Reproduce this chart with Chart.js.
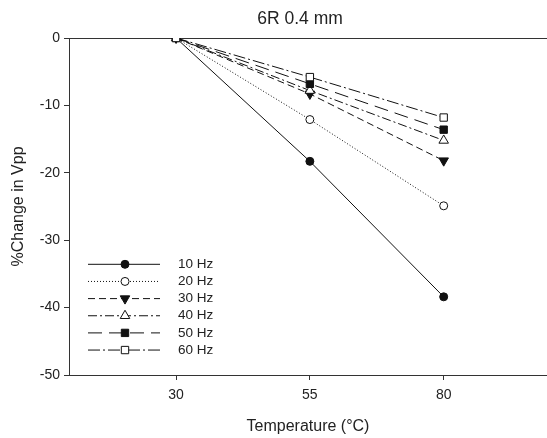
<!DOCTYPE html>
<html>
<head>
<meta charset="utf-8">
<script src="https://cdn.jsdelivr.net/npm/chart.js@4.4.0/dist/chart.umd.min.js"></script>
<style>
html,body{margin:0;padding:0;background:#fff;overflow:hidden}
canvas{display:block}
</style>
</head>
<body>
<canvas id="myChart" width="547" height="438"></canvas>
<script>
// datos
const titulo       = '6R 0.4 mm'
const temperaturas = [30, 55, 80]
const nombres      = ['10 Hz','20 Hz','30 Hz','40 Hz','50 Hz','60 Hz']
const hz10 = [0, -18.3, -38.4]
const hz20 = [0, -12.1, -24.9]
const hz30 = [0, -8.3, -18.2]
const hz40 = [0, -7.8, -15.2]
const hz50 = [0, -6.8, -13.6]
const hz60 = [0, -5.8, -11.8]
const xTicks = [30, 55, 80]
const yTicks = [0, -10, -20, -30, -40, -50]

const valores = [hz10, hz20, hz30, hz40, hz50, hz60]
const fuente  = '"Liberation Sans", Arial, sans-serif'
const negro   = '#111'
const textoColor = '#222'

//estilo de cada serie: linea, marcador, relleno
const estilos = [
    {dash:[],            punto:'circle',   radio:4,   rot:0,   relleno:negro},
    {dash:[1,2],         punto:'circle',   radio:4,   rot:0,   relleno:'#fff'},
    {dash:[7,4],         punto:'triangle', radio:5.5, rot:180, relleno:negro},
    {dash:[9,3,2,3],     punto:'triangle', radio:5.5, rot:0,   relleno:'#fff'},
    {dash:[14,7],        punto:'rect',     radio:5.2, rot:0,   relleno:negro},
    {dash:[12,3,2,3],    punto:'rect',     radio:5.2, rot:0,   relleno:'#fff'}
]

const datasets = nombres.map((nombre,i)=>({
    label:nombre,
    data:temperaturas.map((t,j)=>({x:t, y:valores[i][j]})),
    borderColor:negro,
    borderWidth:1,
    borderDash:estilos[i].dash,
    pointStyle:estilos[i].punto,
    pointRadius:estilos[i].radio,
    pointRotation:estilos[i].rot,
    pointBackgroundColor:estilos[i].relleno,
    pointBorderColor:negro,
    pointBorderWidth:1,
    fill:false,
    tension:0,
    order:nombres.length-1-i
}))

//titulo y leyenda dibujados a mano (linea + marcador al medio)
const extras = {
    id:'extras',
    afterDraw(chart){
        const c = chart.ctx
        c.save()
        c.fillStyle = textoColor
        c.font = '17.5px ' + fuente
        c.textAlign = 'center'
        c.textBaseline = 'middle'
        c.fillText(titulo, 300, 19)

        c.font = '13.5px ' + fuente
        c.textAlign = 'left'
        chart.data.datasets.forEach((ds,i)=>{
            const y = 264.3 + i*17.15
            c.strokeStyle = negro
            c.lineWidth = 1
            c.setLineDash(ds.borderDash)
            c.beginPath()
            c.moveTo(88, y)
            c.lineTo(160, y)
            c.stroke()
            c.setLineDash([])
            c.fillStyle = ds.pointBackgroundColor
            c.strokeStyle = negro
            Chart.helpers.drawPoint(c, {pointStyle:ds.pointStyle, radius:ds.pointRadius, rotation:ds.pointRotation, borderWidth:1}, 125, y)
            c.fillStyle = textoColor
            c.fillText(ds.label, 178, y)
        })
        c.restore()
    }
}

const ctx = document.getElementById('myChart')
const myChart = new Chart(ctx,{
    type:'line',
    data:{datasets:datasets},
    options:{
        responsive:false,
        animation:false,
        layout:{autoPadding:false, padding:{top:38, right:0, left:0, bottom:0}},
        plugins:{legend:{display:false}, title:{display:false}, tooltip:{enabled:false}},
        scales:{
            x:{
                type:'linear', min:10, max:99.3,
                afterBuildTicks:s=>{ s.ticks = xTicks.map(v=>({value:v})) },
                afterFit:s=>{ s.height = 63 },
                grid:{drawOnChartArea:false, tickLength:5, tickColor:'#333'},
                border:{color:'#333', width:1},
                ticks:{padding:7, color:textoColor, maxRotation:0, font:{family:fuente, size:14}},
                title:{display:true, text:'Temperature (°C)', color:textoColor, font:{family:fuente, size:16}, padding:{top:0, bottom:2}}
            },
            y:{
                type:'linear', min:-50, max:0,
                afterBuildTicks:s=>{ s.ticks = yTicks.map(v=>({value:v})) },
                afterFit:s=>{ s.width = 69 },
                grid:{color:c=> (c.tick && c.tick.value===0) ? '#333' : 'rgba(0,0,0,0)', tickLength:5, tickColor:'#333'},
                border:{color:'#333', width:1},
                ticks:{padding:4, color:textoColor, font:{family:fuente, size:14}},
                title:{display:true, text:'%Change in Vpp', color:textoColor, font:{family:fuente, size:16}, padding:{top:9, bottom:0}}
            }
        }
    },
    plugins:[extras]
})
</script>
</body>
</html>
